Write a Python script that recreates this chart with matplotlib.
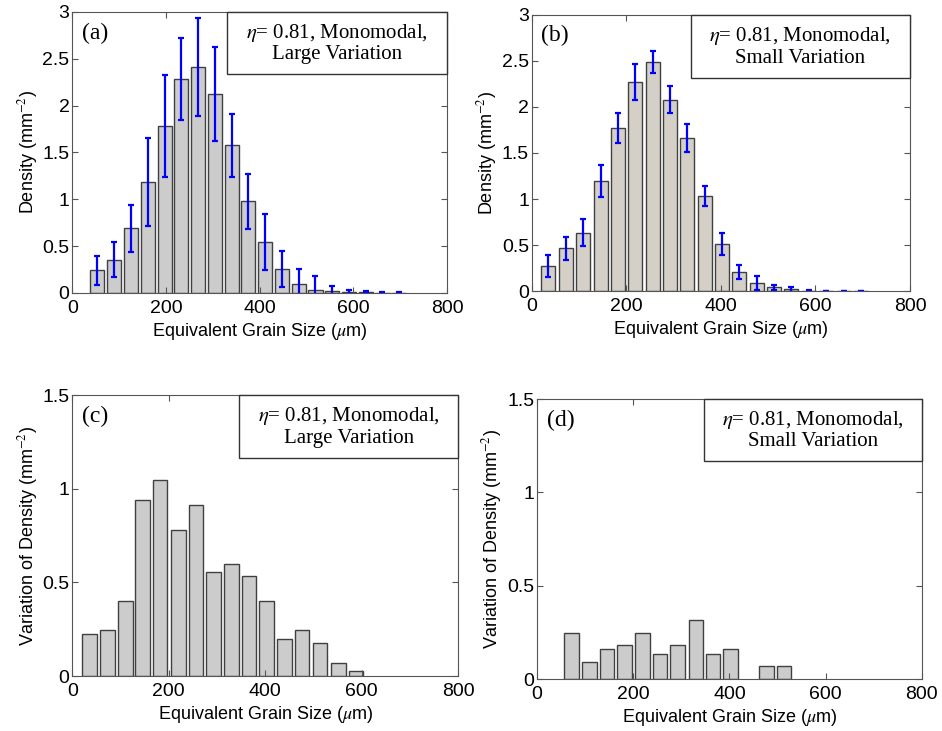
"""Grain size density histograms with variation panels."""

import numpy as np
import matplotlib.pyplot as plt
from matplotlib.patches import Rectangle

plt.rcParams["font.family"] = ["Liberation Sans", "DejaVu Sans"]
plt.rcParams["mathtext.fontset"] = "stix"

# (a) density, large variation
a_x = [53, 89, 125, 161, 197, 233, 268, 304, 340, 376, 412, 447, 483, 519,
       555, 590, 626, 662, 698]
a_y = [0.243, 0.357, 0.689, 1.181, 1.780, 2.283, 2.412, 2.123, 1.577, 0.978,
       0.546, 0.253, 0.093, 0.036, 0.018, 0.010, 0.007, 0.002, 0.001]
a_err = [0.157, 0.189, 0.250, 0.471, 0.544, 0.437, 0.521, 0.503, 0.334, 0.290,
         0.300, 0.190, 0.164, 0.142, 0.053, 0.020, 0.010, 0.005, 0.005]

# (b) density, small variation
b_x = [35, 72, 109, 146, 182, 219, 256, 292, 329, 366, 403, 439, 476, 513,
       549, 586, 623, 660, 696]
b_y = [0.268, 0.464, 0.634, 1.196, 1.772, 2.272, 2.489, 2.080, 1.663, 1.036,
       0.514, 0.207, 0.087, 0.040, 0.018, 0.003, 0.001, 0.001, 0.001]
b_err = [0.120, 0.124, 0.150, 0.174, 0.163, 0.195, 0.123, 0.147, 0.154, 0.110,
         0.118, 0.081, 0.080, 0.030, 0.030, 0.005, 0.003, 0.003, 0.003]

# (c) variation of density, large variation
c_x = [36, 73, 110, 146, 182, 220, 256, 293, 330, 366, 403, 440, 476, 513,
       552, 588]
c_y = [0.222, 0.247, 0.400, 0.938, 1.046, 0.779, 0.913, 0.553, 0.600, 0.534,
       0.400, 0.199, 0.247, 0.178, 0.069, 0.025]

# (d) variation of density, small variation
d_x = [72, 109, 146, 182, 219, 256, 292, 330, 366, 402, 477, 513]
d_y = [0.249, 0.091, 0.161, 0.181, 0.249, 0.136, 0.181, 0.318, 0.136, 0.161,
       0.072, 0.072]

xlabel = r"Equivalent Grain Size ($\mu$m)"
note_large = "$\\eta$= 0.81, Monomodal,\nLarge Variation"
note_small = "$\\eta$= 0.81, Monomodal,\nSmall Variation"


def style_axes(ax, ymax, yticks, ylabel):
    ax.set_xlim(0, 800)
    ax.set_ylim(0, ymax)
    ax.set_xticks([0, 200, 400, 600, 800])
    ax.set_yticks(yticks)
    ax.set_yticklabels([f"{t:g}" for t in yticks])
    ax.tick_params(direction="in", length=4, top=True, right=True,
                   labelsize=14, color="#555555", pad=2)
    ax.tick_params(axis="x", pad=5)
    for s in ax.spines.values():
        s.set_color("#555555")
    ax.set_xlabel(xlabel, fontsize=13, labelpad=3)
    ax.set_ylabel(ylabel, fontsize=13, labelpad=2)


def add_note(ax, tag, note, x0, y0):
    ax.add_patch(Rectangle((x0, y0), 1 - x0, 1 - y0, transform=ax.transAxes,
                           facecolor="white", edgecolor="#333333", lw=1,
                           clip_on=False, zorder=5))
    ax.text((x0 + 1) / 2, (y0 + 1) / 2, note, transform=ax.transAxes,
            ha="center", va="center", fontsize=15, linespacing=1.1,
            family="Liberation Serif", zorder=6)
    ax.text(0.025, 0.925, tag, transform=ax.transAxes, ha="left", va="center",
            fontsize=17, family="Liberation Serif")


fig = plt.figure(figsize=(9.42, 7.31), dpi=100)
ax_a = fig.add_axes([0.0767, 0.5992, 0.398, 0.3844])
ax_b = fig.add_axes([0.5644, 0.6019, 0.4016, 0.3776])
ax_c = fig.add_axes([0.0767, 0.0752, 0.4098, 0.3844])
ax_d = fig.add_axes([0.5700, 0.0711, 0.4087, 0.3830])

dens_ticks = [0, 0.5, 1, 1.5, 2, 2.5, 3]
var_ticks = [0, 0.5, 1, 1.5]

ax_a.bar(a_x, a_y, width=30, color="#cccccc", edgecolor="#404040", lw=1)
ax_a.errorbar(a_x, a_y, yerr=a_err, fmt="none", ecolor="#0000ff",
              elinewidth=1.6, capsize=2.5, capthick=1.6)
style_axes(ax_a, 3, dens_ticks, "Density (mm$^{-2}$)")
add_note(ax_a, "(a)", note_large, 0.413, 0.779)

ax_b.bar(b_x, b_y, width=30, color="#d4d0c8", edgecolor="#404040", lw=1)
ax_b.errorbar(b_x, b_y, yerr=b_err, fmt="none", ecolor="#0000ff",
              elinewidth=1.6, capsize=2.5, capthick=1.6)
style_axes(ax_b, 3, dens_ticks, "Density (mm$^{-2}$)")
add_note(ax_b, "(b)", note_small, 0.42, 0.772)

ax_c.bar(c_x, c_y, width=30, color="#cccccc", edgecolor="#404040", lw=1)
style_axes(ax_c, 1.5, var_ticks, "Variation of Density (mm$^{-2}$)")
add_note(ax_c, "(c)", note_large, 0.433, 0.776)

ax_d.bar(d_x, d_y, width=30, color="#cccccc", edgecolor="#404040", lw=1)
style_axes(ax_d, 1.5, var_ticks, "Variation of Density (mm$^{-2}$)")
add_note(ax_d, "(d)", note_small, 0.434, 0.779)

fig.savefig("out.png", dpi=100)
